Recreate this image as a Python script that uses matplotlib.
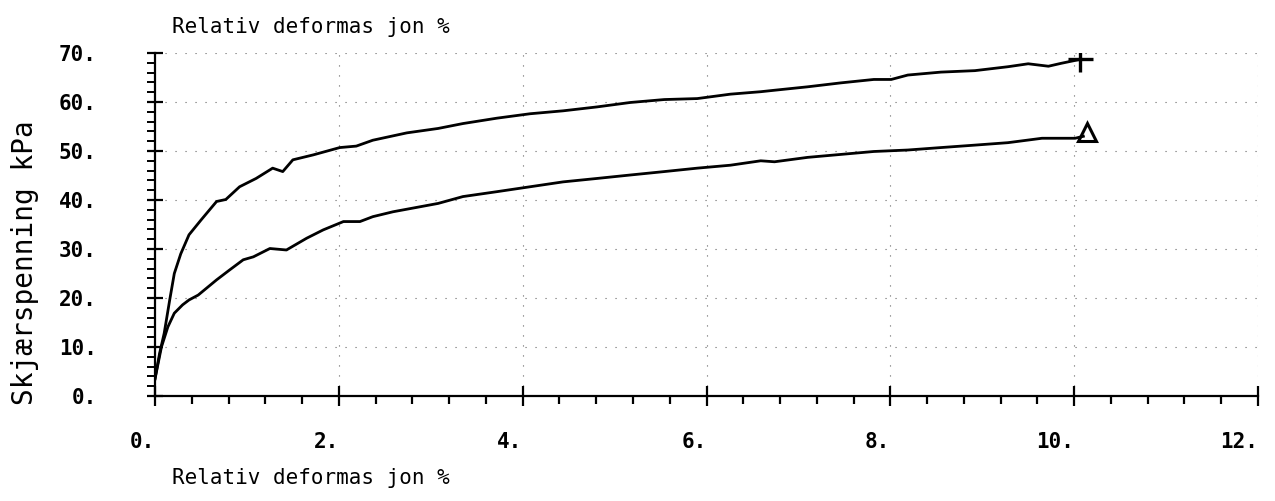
import matplotlib.pyplot as plt
from matplotlib.ticker import MultipleLocator

# curves
upper_x = [0, 0.05, 0.10, 0.16, 0.21, 0.28, 0.37, 0.50, 0.67, 0.77, 0.92, 1.10, 1.28, 1.39,
           1.50, 1.72, 2.01, 2.19, 2.37, 2.74, 3.08, 3.35, 3.72, 4.08, 4.44, 4.81, 5.17, 5.54,
           5.90, 6.26, 6.59, 6.74, 7.10, 7.46, 7.82, 8.01, 8.19, 8.55, 8.92, 9.28, 9.50, 9.72,
           9.86, 10.04]
upper_y = [3.5, 8.7, 12.8, 19.6, 25.0, 29.0, 32.9, 35.9, 39.7, 40.1, 42.7, 44.4, 46.5, 45.8,
           48.2, 49.2, 50.7, 51.0, 52.2, 53.7, 54.6, 55.6, 56.7, 57.6, 58.2, 59.0, 59.9, 60.5,
           60.7, 61.6, 62.1, 62.4, 63.1, 63.9, 64.6, 64.6, 65.5, 66.1, 66.4, 67.2, 67.8, 67.3,
           67.9, 68.6]

lower_x = [0, 0.07, 0.14, 0.21, 0.30, 0.37, 0.47, 0.67, 0.81, 0.96, 1.07, 1.25, 1.43, 1.65,
           1.83, 2.05, 2.23, 2.37, 2.59, 3.08, 3.35, 3.72, 4.08, 4.44, 4.81, 5.17, 5.54, 5.90,
           6.26, 6.59, 6.74, 7.10, 7.46, 7.82, 8.19, 8.55, 8.92, 9.28, 9.65, 10.01, 10.10]
lower_y = [3.5, 10.0, 14.1, 16.9, 18.6, 19.6, 20.6, 23.7, 25.7, 27.8, 28.4, 30.1, 29.8, 32.2,
           33.9, 35.6, 35.6, 36.6, 37.6, 39.3, 40.7, 41.7, 42.7, 43.7, 44.4, 45.1, 45.8, 46.5,
           47.1, 48.0, 47.8, 48.7, 49.3, 49.9, 50.2, 50.7, 51.2, 51.7, 52.6, 52.6, 53.0]

end_plus = (10.06, 68.7)
end_tri = (10.14, 53.9)

x_ticks = [0, 2, 4, 6, 8, 10, 12]
y_ticks = [0, 10, 20, 30, 40, 50, 60, 70]

mono = 'DejaVu Sans Mono'

fig = plt.figure(figsize=(12.75, 5.01), dpi=100)
ax = fig.add_axes([155 / 1275, 105 / 501, 1103 / 1275, 343 / 501])

# sparse dotted grid like the plotter output
for xv in x_ticks[1:]:
    ax.axvline(xv, color='0.4', lw=0.8, ls=(0, (1, 8)), zorder=0)
for yv in y_ticks[1:]:
    ax.axhline(yv, color='0.4', lw=0.8, ls=(0, (1, 8)), zorder=0)

ax.plot(upper_x, upper_y, color='black', lw=2.0)
ax.plot(lower_x, lower_y, color='black', lw=2.0)
ax.plot([end_plus[0]], [end_plus[1]], marker='+', ms=18, mew=2.4, color='black')
ax.plot([end_tri[0]], [end_tri[1]], marker='^', ms=13, mew=2.2, mfc='none', mec='black')

ax.set_xlim(0, 12)
ax.set_ylim(0, 70)
for s in ['top', 'right']:
    ax.spines[s].set_visible(False)
ax.spines['left'].set_linewidth(1.6)
ax.spines['bottom'].set_linewidth(1.6)

ax.set_xticks(x_ticks)
ax.set_yticks(y_ticks)
ax.xaxis.set_minor_locator(MultipleLocator(0.4))
ax.yaxis.set_minor_locator(MultipleLocator(2))
ax.set_xticklabels([f'{v}.' for v in x_ticks], fontfamily=mono, fontsize=15,
                   fontweight='bold', ha='right')
ax.set_yticklabels([f'{v}.' for v in y_ticks], fontfamily=mono, fontsize=15,
                   fontweight='bold')
ax.tick_params(axis='x', which='major', direction='inout', length=14, width=1.6, pad=19)
ax.tick_params(axis='x', which='minor', direction='out', length=6, width=1.6)
ax.tick_params(axis='y', which='major', direction='inout', length=12, width=1.6, pad=36)
ax.tick_params(axis='y', which='minor', direction='out', length=6, width=1.4)

fig.text(25 / 1275, 1 - 263 / 501, 'Skjærspenning kPa', fontfamily=mono, fontsize=20,
         rotation=90, ha='center', va='center')
fig.text(172 / 1275, 1 - 27 / 501, 'Relativ deformas jon %', fontfamily=mono,
         fontsize=15, ha='left', va='center')
fig.text(172 / 1275, 1 - 478 / 501, 'Relativ deformas jon %', fontfamily=mono,
         fontsize=15, ha='left', va='center')

fig.savefig('out.png', dpi=100)
